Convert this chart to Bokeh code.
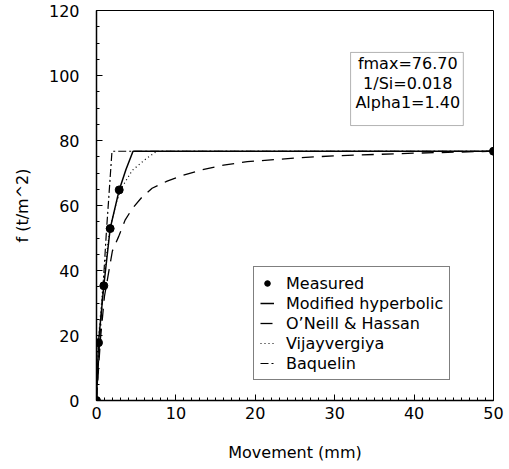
from bokeh.plotting import figure
from bokeh.models import Legend, LegendItem, BoxAnnotation, Label, SingleIntervalTicker
from bokeh.embed import file_html
from bokeh.resources import INLINE

# ---- data ----
measured_x = [0, 0.25, 0.92, 1.72, 2.86, 50]
measured_y = [0, 17.8, 35.3, 52.9, 64.8, 76.7]

modhyp_x = [0, 0.25, 0.92, 1.72, 2.86, 3.7, 4.6, 50]
modhyp_y = [0, 17.8, 35.3, 52.9, 64.8, 71.0, 76.7, 76.7]

oneill_x = [0, 0.5, 1.0, 2.0, 2.8, 3.6, 4.5, 5.7, 7.0, 8.9, 10.8, 13.3, 16.0, 19.0, 25.0, 30.0, 40.0, 50.0]
oneill_y = [0, 19.0, 32.0, 46.0, 50.5, 55.5, 59.0, 62.5, 65.3, 67.5, 69.2, 71.0, 72.4, 73.5, 74.6, 75.3, 76.1, 76.7]

vijay_x = [0, 0.25, 0.9, 1.7, 2.5, 3.2, 4.5, 6.2, 7.6, 50]
vijay_y = [0, 19.0, 38.0, 53.0, 61.0, 65.6, 70.8, 74.3, 76.7, 76.7]

baq_x = [0, 0.3, 0.7, 1.25, 1.95, 50]
baq_y = [0, 14.0, 30.0, 52.0, 76.7, 76.7]

params = ["fmax=76.70", "1/Si=0.018", "Alpha1=1.40"]
legend_labels = ["Measured", "Modified hyperbolic", "O\u2019Neill & Hassan", "Vijayvergiya", "Baquelin"]

FONT = "DejaVu Sans"

p = figure(width=509, height=469, x_range=(0, 50), y_range=(0, 120),
           output_backend="svg", toolbar_location=None,
           min_border_left=96, min_border_right=16, min_border_top=10, min_border_bottom=69)
p.background_fill_color = "white"
p.border_fill_color = "white"
p.outline_line_color = "black"
p.outline_line_width = 1
p.xgrid.visible = False
p.ygrid.visible = False

p.xaxis.ticker = SingleIntervalTicker(interval=10, num_minor_ticks=10)
p.yaxis.ticker = SingleIntervalTicker(interval=20, num_minor_ticks=4)

for ax in (p.xaxis[0], p.yaxis[0]):
    ax.axis_line_color = "black"
    ax.axis_line_width = 1.5
    ax.major_tick_in = 6
    ax.major_tick_out = 0
    ax.minor_tick_in = 3
    ax.minor_tick_out = 0
    ax.major_tick_line_color = "black"
    ax.minor_tick_line_color = "black"
    ax.major_label_text_font = FONT
    ax.major_label_text_font_size = "16px"
    ax.major_label_text_color = "black"
    ax.axis_label_text_font = FONT
    ax.axis_label_text_font_size = "16px"
    ax.axis_label_text_font_style = "normal"
    ax.axis_label_text_color = "black"

p.xaxis.axis_label = "Movement (mm)"
p.yaxis.axis_label = "f (t/m^2)"
p.xaxis.major_label_standoff = 6
p.xaxis.axis_label_standoff = 21
p.yaxis.major_label_standoff = 17
p.yaxis.axis_label_standoff = 14

r_mod = p.line(modhyp_x, modhyp_y, line_color="black", line_width=1.5)
r_one = p.line(oneill_x, oneill_y, line_color="black", line_width=1.3, line_dash="12 8")
r_vij = p.line(vijay_x, vijay_y, line_color="black", line_width=1.2, line_dash="1 3")
r_baq = p.line(baq_x, baq_y, line_color="black", line_width=1.2, line_dash="8 3 2 3")
r_meas = p.scatter(measured_x, measured_y, marker="circle", size=8,
                   fill_color="black", line_color="black")

legend = Legend(items=[
    LegendItem(label=legend_labels[0], renderers=[r_meas]),
    LegendItem(label=legend_labels[1], renderers=[r_mod]),
    LegendItem(label=legend_labels[2], renderers=[r_one]),
    LegendItem(label=legend_labels[3], renderers=[r_vij]),
    LegendItem(label=legend_labels[4], renderers=[r_baq]),
], location=(157, 20))
legend.border_line_color = "black"
legend.border_line_width = 1
legend.background_fill_color = "white"
legend.background_fill_alpha = 1
legend.padding = 6
legend.margin = 0
legend.spacing = 0
legend.glyph_width = 14
legend.glyph_height = 20
legend.label_height = 20
legend.label_standoff = 12
legend.label_text_font = FONT
legend.label_text_font_size = "16px"
legend.label_text_color = "black"
p.add_layout(legend)

box = BoxAnnotation(left=32.0, right=46.2, bottom=84.6, top=107.1,
                    fill_color="white", fill_alpha=1, line_color="black", line_width=1)
p.add_layout(box)
for txt, yy in zip(params, [103.7, 97.5, 91.7]):
    p.add_layout(Label(x=39.2, y=yy, text=txt, text_align="center", text_baseline="middle",
                       text_font=FONT, text_font_size="16px", text_color="black"))

open("out.html", "w").write(file_html(p, INLINE))
